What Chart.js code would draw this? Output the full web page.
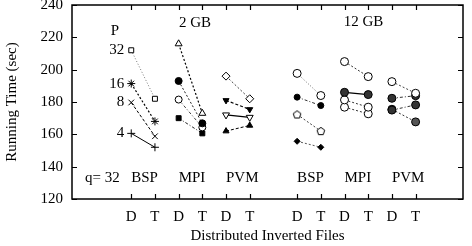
<!DOCTYPE html>
<html>
<head>
<meta charset="utf-8">
<script src="https://cdn.jsdelivr.net/npm/chart.js@4.4.1/dist/chart.umd.min.js"></script>
<style>
  html, body { margin: 0; padding: 0; background: #fff; }
  #wrap { width: 472px; height: 246px; }
</style>
</head>
<body>
<div id="wrap"><canvas id="c" width="472" height="246"></canvas></div>
<script>
// ---- data ----
const methods = ['BSP', 'MPI', 'PVM', 'BSP', 'MPI', 'PVM'];
const sizeLabels = ['2 GB', '12 GB'];
const tickLabels = ['D', 'T'];
const procs = [32, 16, 8, 4];
const yTicks = [120, 140, 160, 180, 200, 220, 240];

// values per group: [D, T] for four series
const bsp2 = [[212, 182], [191.4, 168], [179.7, 158.8], [160.6, 152]];
const mpi2 = [[216, 173], [193, 166.8], [181.5, 164.3], [170, 160.6]];
const pvm2 = [[196, 182], [181, 175.4], [172, 170.5], [162, 165.5]];
const bsp12 = [[197.7, 184], [183, 177.8], [172.3, 162], [155.7, 152]];
const mpi12 = [[205, 195.7], [186, 184.6], [181.3, 176.8], [176.8, 172.7]];
const pvm12 = [[192.6, 185.4], [182.3, 183.9], [175, 178.2], [175.5, 167.7]];

const groups = [bsp2, mpi2, pvm2, bsp12, mpi12, pvm12];

// ---- styles ----
function pentagon() {
  const c = document.createElement('canvas');
  c.width = 10; c.height = 10;
  const g = c.getContext('2d');
  g.strokeStyle = '#000'; g.lineWidth = 1; g.fillStyle = '#fff';
  g.beginPath();
  for (let i = 0; i < 5; i++) {
    const a = -Math.PI / 2 + i * 2 * Math.PI / 5;
    const px = 5 + 4 * Math.cos(a), py = 5.3 + 4 * Math.sin(a);
    if (i === 0) g.moveTo(px, py); else g.lineTo(px, py);
  }
  g.closePath(); g.fill(); g.stroke();
  return c;
}
const pent = pentagon();

const W = '#fff', K = '#000';
const styles = [
  [ {ps:'rect', r:3.5, bg:W, dash:[1,2], lc:'#777', lw:1},
    {ps:'star', r:4, bg:W, dash:[2,2], lc:'#000', lw:1.2},
    {ps:'crossRot', r:4, bg:W, dash:[3,2], lc:'#000', lw:1},
    {ps:'cross', r:4, bg:W, dash:[], lc:'#000', lw:1} ],
  [ {ps:'triangle', r:4, bg:W, dash:[2,2], lc:'#000', lw:1.2},
    {ps:'circle', r:3.5, bg:K, dash:[2,2], lc:'#222', lw:1},
    {ps:'circle', r:3.5, bg:W, dash:[3,2,1,2], lc:'#444', lw:1},
    {ps:'rect', r:3.5, bg:K, dash:[3,2,1,2], lc:'#222', lw:1} ],
  [ {ps:'rectRot', r:4, bg:W, dash:[2,2], lc:'#444', lw:1},
    {ps:'triangle', rot:180, r:3.5, bg:K, dash:[3,2], lc:'#000', lw:1.2},
    {ps:'triangle', rot:180, r:4, bg:W, dash:[], lc:'#000', lw:1.2},
    {ps:'triangle', r:3.5, bg:K, dash:[3,2], lc:'#000', lw:1} ],
  [ {ps:'circle', r:4, bg:W, dash:[1,2], lc:'#666', lw:1},
    {ps:'circle', r:3, bg:K, dash:[3,2,1,2], lc:'#333', lw:1},
    {ps:pent, r:4, bg:W, dash:[2,2], lc:'#444', lw:1},
    {ps:'rectRot', r:3, bg:K, dash:[2,2], lc:'#555', lw:1} ],
  [ {ps:'circle', r:4, bg:W, dash:[2,2], lc:'#333', lw:1},
    {ps:'circle', r:4, bg:'#333', dash:[], lc:'#000', lw:1.2},
    {ps:'circle', r:4, bg:W, dash:[2,2], lc:'#333', lw:1},
    {ps:'circle', r:4, bg:W, dash:[2,2], lc:'#333', lw:1} ],
  [ {ps:'circle', r:4, bg:W, dash:[2,2], lc:'#444', lw:1},
    {ps:'circle', r:4, bg:'#333', dash:[3,2,1,2], lc:'#333', lw:1},
    {ps:'circle', r:4, bg:'#333', dash:[3,2,1,2], lc:'#333', lw:1},
    {ps:'circle', r:4, bg:'#555', dash:[2,2], lc:'#333', lw:1} ]
];

// x position of group g's D tick (T is +1)
function basePos(g) { return 2.5 + 2 * g + (g >= 3 ? 1 : 0); }
const xTickPos = [];
methods.forEach((m, g) => { xTickPos.push(basePos(g)); xTickPos.push(basePos(g) + 1); });

const datasets = [];
groups.forEach((grp, g) => {
  grp.forEach((vals, s) => {
    const st = styles[g][s];
    datasets.push({
      data: vals.map((v, k) => ({ x: basePos(g) + k, y: v })),
      showLine: true,
      borderColor: st.lc,
      borderWidth: st.lw,
      borderDash: st.dash,
      pointStyle: st.ps,
      pointRotation: st.rot || 0,
      pointRadius: st.r,
      pointBackgroundColor: st.bg,
      pointBorderColor: '#000',
      pointBorderWidth: 1,
      clip: false
    });
  });
});

const FONT = '"Liberation Serif", "DejaVu Serif", serif';

const framePlugin = {
  id: 'frame',
  afterDraw(chart) {
    const ctx = chart.ctx, a = chart.chartArea;
    const xs = chart.scales.x, ys = chart.scales.y;
    ctx.save();
    ctx.strokeStyle = '#000';
    ctx.lineWidth = 1.5;
    ctx.setLineDash([]);
    ctx.strokeRect(a.left, a.top, a.right - a.left, a.bottom - a.top);
    ctx.lineWidth = 1.2;
    ctx.beginPath();
    const tl = 5;
    yTicks.forEach(v => {
      const y = Math.round(ys.getPixelForValue(v)) + 0.5;
      ctx.moveTo(a.left, y); ctx.lineTo(a.left + tl, y);
      ctx.moveTo(a.right, y); ctx.lineTo(a.right - tl, y);
    });
    xTickPos.forEach(v => {
      const x = Math.round(xs.getPixelForValue(v)) + 0.5;
      ctx.moveTo(x, a.bottom); ctx.lineTo(x, a.bottom - tl);
      ctx.moveTo(x, a.top); ctx.lineTo(x, a.top + tl);
    });
    ctx.stroke();

    // annotations
    ctx.fillStyle = '#000';
    ctx.font = '15px ' + FONT;
    ctx.textBaseline = 'middle';
    const X = v => xs.getPixelForValue(v), Y = v => ys.getPixelForValue(v);
    ctx.textAlign = 'center';
    ctx.fillText('P', X(1.81), Y(224));
    ctx.fillText(sizeLabels[0], X(5.19), Y(228.8));
    ctx.fillText(sizeLabels[1], X(12.3), Y(229.3));
    ctx.textAlign = 'right';
    procs.forEach((p, i) => ctx.fillText(String(p), X(2.2), Y(bsp2[i][0])));
    ctx.textAlign = 'left';
    ctx.fillText('q= 32', X(0.55), Y(133.2));
    methods.forEach((m, g) => ctx.fillText(m, X(basePos(g)), Y(133.2)));
    ctx.restore();
  }
};

new Chart(document.getElementById('c'), {
  type: 'scatter',
  data: { datasets },
  options: {
    responsive: false,
    animation: false,
    devicePixelRatio: 1,
    layout: { padding: { left: 0, right: 9, top: 4, bottom: 0 } },
    plugins: { legend: { display: false }, tooltip: { enabled: false } },
    scales: {
      x: {
        type: 'linear', min: 0, max: 16.5,
        grid: { display: false, drawTicks: false },
        border: { display: false },
        afterBuildTicks: s => { s.ticks = xTickPos.map(v => ({ value: v })); },
        afterFit: s => { s.height = 47; s.paddingLeft = 0; s.paddingRight = 0; },
        ticks: {
          autoSkip: false, maxRotation: 0, padding: 9,
          color: '#000', font: { family: FONT, size: 15 },
          callback: (v, i) => tickLabels[i % 2]
        },
        title: { display: true, text: 'Distributed Inverted Files', color: '#000',
                 font: { family: FONT, size: 15 }, padding: { top: 0, bottom: 1 } }
      },
      y: {
        min: 120, max: 240,
        grid: { display: false, drawTicks: false },
        border: { display: false },
        afterBuildTicks: s => { s.ticks = yTicks.map(v => ({ value: v })); },
        afterFit: s => { s.width = 72; s.paddingTop = 0; s.paddingBottom = 0; },
        ticks: { padding: 9, color: '#000', font: { family: FONT, size: 15 } },
        title: { display: true, text: 'Running Time (sec)', color: '#000',
                 font: { family: FONT, size: 15 }, padding: { top: 3, bottom: 0 } }
      }
    }
  },
  plugins: [framePlugin]
});
</script>
</body>
</html>
